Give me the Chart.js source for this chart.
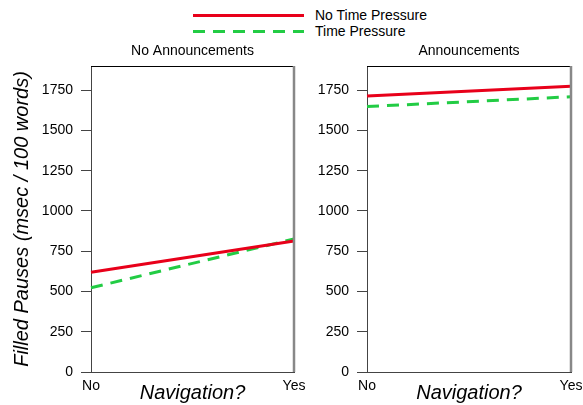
<!DOCTYPE html>
<html>
<head>
<meta charset="utf-8">
<script src="https://cdn.jsdelivr.net/npm/chart.js@4/dist/chart.umd.min.js"></script>
<style>
  body { margin: 0; background: #fff; font-family: 'Liberation Sans', Arial, sans-serif; }
  #wrap { position: relative; width: 583px; height: 405px; overflow: hidden; }
  canvas { position: absolute; top: 0; }
  #leftChart { left: 0; }
  #rightChart { left: 300px; }
  .legtext { position: absolute; left: 315px; font-size: 14px; line-height: 16px; color: #000; }
  #legLines { position: absolute; left: 0; top: 0; }
</style>
</head>
<body>
<div id="wrap">
  <svg id="legLines" width="583" height="40">
    <line x1="193" y1="15.5" x2="304" y2="15.5" stroke="#e8001a" stroke-width="3"/>
    <line x1="193" y1="31.5" x2="304" y2="31.5" stroke="#22cc44" stroke-width="3" stroke-dasharray="12 8"/>
  </svg>
  <span class="legtext" style="top:7px">No Time Pressure</span>
  <span class="legtext" style="top:23px">Time Pressure</span>
  <canvas id="leftChart" width="310" height="405"></canvas>
  <canvas id="rightChart" width="283" height="405"></canvas>
</div>
<script>
// data
const navigation = ['No', 'Yes']
const noAnnNoPressure = [619, 814]
const noAnnPressure = [523, 826]
const annNoPressure = [1713, 1775]
const annPressure = [1648, 1709]
const yMax = 1900
const yStep = 250

const red = '#e8001a'
const green = '#22cc44'

Chart.defaults.font.family = "'Liberation Sans', Arial, sans-serif"
Chart.defaults.color = '#000'

// top and right edges of the plot box
const framePlugin = {
    id: 'frame',
    afterDraw(chart) {
        const { ctx, chartArea: a } = chart
        ctx.save()
        ctx.strokeStyle = '#000'
        ctx.lineWidth = 1
        ctx.beginPath()
        ctx.moveTo(a.left, a.top + 0.5)
        ctx.lineTo(a.right, a.top + 0.5)
        ctx.stroke()
        ctx.strokeStyle = '#888'
        ctx.lineWidth = 2.5
        ctx.beginPath()
        ctx.moveTo(a.right, a.top)
        ctx.lineTo(a.right, a.bottom)
        ctx.stroke()
        ctx.restore()
    }
}

const makeChart = (canvas, title, solid, dashed, yWidth, padRight, showYTitle) => {
    return new Chart(canvas, {
        type: 'line',
        data: {
            labels: navigation,
            datasets: [{
                label: 'No Time Pressure',
                data: solid,
                borderColor: red,
                borderWidth: 3,
                pointRadius: 0,
                fill: false
            }, {
                label: 'Time Pressure',
                data: dashed,
                borderColor: green,
                borderWidth: 3,
                borderDash: [12, 8],
                pointRadius: 0,
                fill: false
            }]
        },
        options: {
            responsive: false,
            animation: false,
            layout: { padding: { left: 0, right: padRight, top: 0, bottom: 0 } },
            plugins: { legend: { display: false }, tooltip: { enabled: false } },
            scales: {
                y: {
                    min: 0,
                    max: yMax,
                    ticks: {
                        stepSize: yStep,
                        includeBounds: false,
                        padding: 8,
                        font: { size: 14 },
                        callback: (v) => String(v)
                    },
                    grid: { drawOnChartArea: false, tickLength: 10, color: '#444' },
                    border: { color: '#444' },
                    title: {
                        display: showYTitle,
                        text: 'Filled Pauses (msec / 100 words)',
                        font: { size: 20, style: 'italic' },
                        padding: { top: 10, bottom: 0 }
                    },
                    afterFit(s) { s.width = yWidth; s.paddingTop = 0; s.paddingBottom = 0 }
                },
                x: {
                    ticks: { padding: 6, font: { size: 14 }, maxRotation: 0, autoSkip: false },
                    grid: { display: false, drawTicks: false },
                    border: { display: true, color: '#444' },
                    title: {
                        display: true,
                        text: 'Navigation?',
                        font: { size: 20, style: 'italic' },
                        padding: { top: 0, bottom: 0 }
                    },
                    afterFit(s) { s.height = 33; s.paddingLeft = 0; s.paddingRight = 0 }
                },
                top: {
                    type: 'category',
                    position: 'top',
                    ticks: { display: false },
                    grid: { display: false, drawTicks: false },
                    border: { display: false },
                    title: {
                        display: true,
                        text: title,
                        font: { size: 14 },
                        padding: { top: 43, bottom: 0 }
                    },
                    afterFit(s) { s.height = 66; s.paddingLeft = 0; s.paddingRight = 0 }
                }
            }
        },
        plugins: [framePlugin]
    })
}

makeChart(document.getElementById('leftChart'), 'No Announcements', noAnnNoPressure, noAnnPressure, 91, 16, true)
makeChart(document.getElementById('rightChart'), 'Announcements', annNoPressure, annPressure, 67, 12, false)
</script>
</body>
</html>
